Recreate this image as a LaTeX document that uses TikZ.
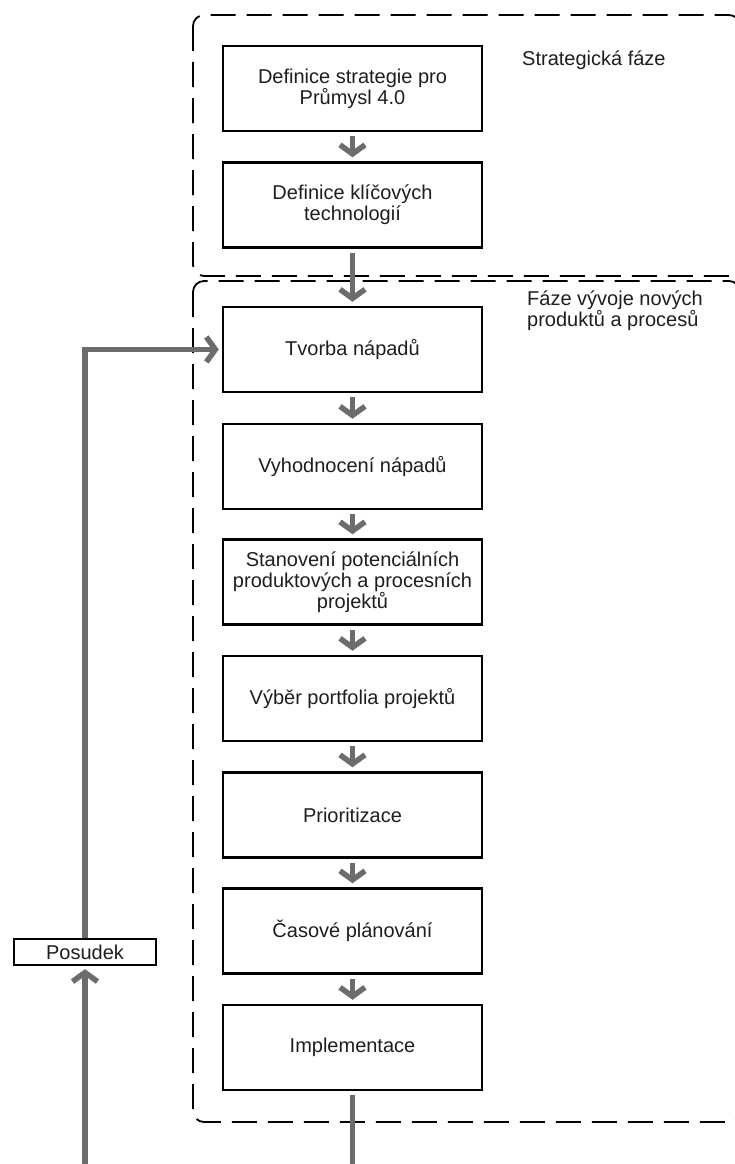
\documentclass[tikz,border=0pt]{standalone}
\usepackage{fontspec}
\setmainfont{Liberation Sans}
\usetikzlibrary{arrows.meta}
\definecolor{flowgray}{RGB}{108,108,108}
\definecolor{textdark}{RGB}{30,30,30}
\begin{document}
\begin{tikzpicture}[x=1pt,y=-1pt,
  every node/.style={font=\fontsize{20}{21}\selectfont, text=textdark},
  stepbox/.style={draw=black, line width=2.5pt, rectangle, align=center,
    minimum width=259pt, minimum height=85pt, inner sep=2pt},
  smallbox/.style={draw=black, line width=2.3pt, rectangle, align=center,
    minimum width=142pt, minimum height=26pt, inner sep=1pt},
  phase/.style={draw=black, line width=1.8pt, dash pattern=on 25pt off 11pt,
    rounded corners=11pt},
  flow/.style={draw=flowgray, line width=5.5pt,
    -{Straight Barb[length=9pt,width=25pt]}, shorten <=4pt, shorten >=4pt},
  feed/.style={draw=flowgray, line width=5.5pt},
  label/.style={inner sep=0pt, align=left}
]
\useasboundingbox (0,0) rectangle (735,1164);

% phase frames
\draw[phase] (193,15) rectangle (740,276);
\draw[phase] (193,281) rectangle (740,1122);

% phase labels
\node[label, anchor=west] (lstrat) at (522,60) {Strategická fáze};
\node[label, anchor=north west] (ldev) at (527,291) {Fáze vývoje nových\\produktů a procesů};

% process steps
\node[stepbox] (b1) at (352.5,88.5)  {Definice strategie pro\\Průmysl 4.0};
\node[stepbox] (b2) at (352.5,205)   {Definice klíčových\\technologií};
\node[stepbox] (b3) at (352.5,349.5) {Tvorba nápadů};
\node[stepbox] (b4) at (352.5,466.5) {Vyhodnocení nápadů};
\node[stepbox] (b5) at (352.5,582)   {Stanovení potenciálních\\produktových a procesních\\projektů};
\node[stepbox] (b6) at (352.5,698.5) {Výběr portfolia projektů};
\node[stepbox] (b7) at (352.5,815)   {Prioritizace};
\node[stepbox] (b8) at (352.5,931)   {Časové plánování};
\node[stepbox] (b9) at (352.5,1047.5){Implementace};

\node[smallbox] (pos) at (85,952) {Posudek};

% flow between steps
\draw[flow] (b1) -- (b2);
\draw[flow] (b2) -- (b3);
\draw[flow] (b3) -- (b4);
\draw[flow] (b4) -- (b5);
\draw[flow] (b5) -- (b6);
\draw[flow] (b6) -- (b7);
\draw[flow] (b7) -- (b8);
\draw[flow] (b8) -- (b9);

% outgoing line and feedback loop
\coordinate (out) at (352.5,1164);
\coordinate (back) at (85,1164);
\draw[feed, shorten <=4pt] (b9.south) -- (out);
\draw[flow, shorten <=0pt, shorten >=3pt] (back) -- (pos.south);
\draw[feed, -{Straight Barb[length=9pt,width=25pt]}, shorten >=3pt, line join=miter]
  (pos.north) |- (b3.west);
\end{tikzpicture}
\end{document}
